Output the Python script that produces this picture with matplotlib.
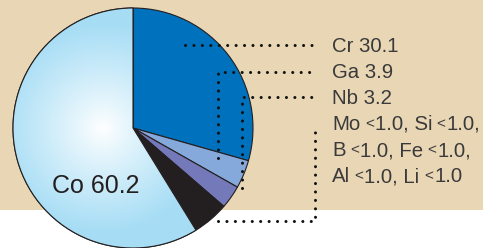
import matplotlib.pyplot as plt
import numpy as np
from matplotlib.patches import Rectangle, Wedge
from matplotlib.colors import to_rgb

plt.rcParams['font.family'] = ['Liberation Sans', 'DejaVu Sans']

# composition (wt %), clockwise from 12 o'clock
elements = ['Cr', 'Ga', 'Nb', 'minor', 'Co']
shares = [30.1, 3.9, 3.2, 5.0, 60.2]
colors = ['#0071BC', '#86A9DB', '#7479BA', '#231F20', '#A6DDF5']
labeled = ['Cr', 'Ga', 'Nb']
minor_lines = [['Mo', 'Si'], ['B', 'Fe'], ['Al', 'Li']]
minor_value = '1.0'

W, H = 483, 248
def py(y):
    # pixel row -> data y
    return H - y

fig = plt.figure(figsize=(W / 100, H / 100), dpi=100)
fig.patch.set_facecolor('white')
ax = fig.add_axes([0, 0, 1, 1])

# beige band
ax.add_patch(Rectangle((0, py(210)), W, 210, color='#E8D6B5', zorder=0, lw=0))

center = (133, py(128))
radius = 120
wedges, _ = ax.pie(shares, colors=colors, startangle=90, counterclock=False,
                   center=center, radius=radius,
                   wedgeprops=dict(edgecolor='#231F20', linewidth=0.8))

# radial gradient on the Co slice
yy, xx = np.mgrid[0:H, 0:W] + 0.5
d = np.hypot(xx - 103, yy - py(128))
t = np.clip(d / 105, 0, 1) ** 0.9
c_in = np.array(to_rgb('#FFFFFF'))
c_out = np.array(to_rgb('#A6DDF5'))
img = c_in * (1 - t[..., None]) + c_out * t[..., None]
im = ax.imshow(img, extent=(0, W, 0, H), origin='lower', zorder=1.5,
               interpolation='bilinear')
co = wedges[elements.index('Co')]
im.set_clip_path(co)
ax.add_patch(Wedge(co.center, co.r, co.theta1, co.theta2, fill=False,
                   edgecolor='#231F20', lw=0.8, zorder=2))

ax.set_xlim(0, W)
ax.set_ylim(0, H)
ax.set_aspect('equal')
ax.axis('off')

# dotted leader lines (pixel coords)
leaders = [
    [(185, 45), (317, 45)],
    [(218, 158), (218, 72), (317, 72)],
    [(242, 188), (242, 97), (317, 97)],
    [(218, 221), (315, 221), (315, 125)],
]
for pts in leaders:
    xs = [p[0] for p in pts]
    ys = [py(p[1]) for p in pts]
    ax.plot(xs, ys, color='#111111', lw=2.2, linestyle=(0, (0.01, 2.75)),
            dash_capstyle='round', solid_joinstyle='round', zorder=3)

txt_color = '#3A3A3A'
fs = 14.7
baselines = [52, 78, 104, 130, 156.5, 182.5]

for i, el in enumerate(labeled):
    ax.text(332, py(baselines[i]), f'{el} {shares[elements.index(el)]}',
            fontsize=fs, color=txt_color, va='baseline', zorder=4)

renderer = fig.canvas.get_renderer()

def rich(x, y, pieces):
    for s, size, dy, gap in pieces:
        tt = ax.text(x, y + dy, s, fontsize=size, color=txt_color,
                     va='baseline', zorder=4)
        x += tt.get_window_extent(renderer).width + gap

for k, (a, b) in enumerate(minor_lines):
    end = ',' if k < len(minor_lines) - 1 else ''
    pieces = [
        (a, fs, 0, 4.5),
        ('<', 11, 2.2, 1.0),
        (f'{minor_value}, {b}', fs, 0, 4.5),
        ('<', 11, 2.2, 1.0),
        (f'{minor_value}{end}', fs, 0, 0),
    ]
    rich(332, py(baselines[3 + k]), pieces)

ax.text(52, py(192.7), f"Co {shares[elements.index('Co')]}", fontsize=18,
        color='#231F20', va='baseline', zorder=4)

fig.savefig('out.png', dpi=100)
